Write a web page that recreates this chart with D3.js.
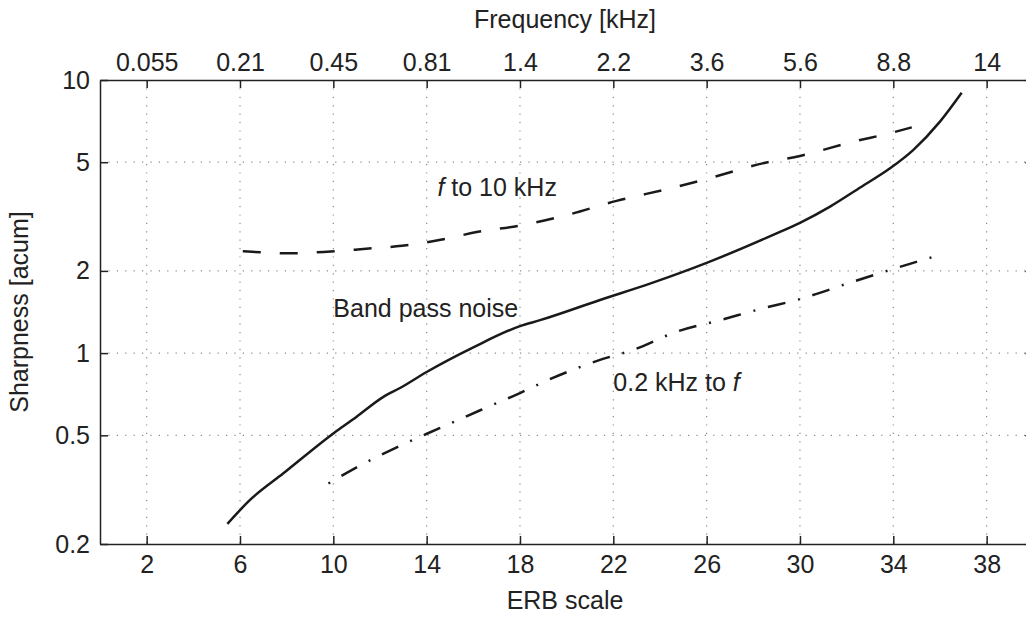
<!DOCTYPE html>
<html>
<head>
<meta charset="utf-8">
<script src="https://cdn.jsdelivr.net/npm/d3@7"></script>
<style>
  html, body { margin: 0; padding: 0; background: #fff; }
  svg { display: block; }
  text { font-family: "Liberation Sans", Arial, Helvetica, sans-serif; fill: #222; }
</style>
</head>
<body>
<svg id="chart"></svg>
<script>
// ERB ticks (bottom) and the matching frequencies (top)
const erbTicks = [2, 6, 10, 14, 18, 22, 26, 30, 34, 38];
const freqLabels = ['0.055', '0.21', '0.45', '0.81', '1.4', '2.2', '3.6', '5.6', '8.8', '14'];
const sharpTicks = [0.2, 0.5, 1, 2, 5, 10];

// band pass noise (solid)
const bandErb   = [5.46, 6.43, 7.86, 10.0, 11.0, 12.13, 12.86, 14.0, 16.0, 18.0, 18.86, 21.43, 23.6, 26.0, 28.85, 30.0, 31.29, 32.6, 33.86, 34.85, 36.0, 36.93];
const bandSharp = [0.237, 0.29, 0.363, 0.508, 0.585, 0.69, 0.745, 0.853, 1.05, 1.256, 1.32, 1.565, 1.80, 2.14, 2.71, 3.00, 3.44, 4.05, 4.75, 5.54, 7.04, 8.98];

// f to 10 kHz (dashed)
const highErb   = [6.12, 8.14, 9.73, 11.4, 12.94, 14.6, 16.2, 18.0, 20.0, 22.14, 24.43, 26.0, 28.4, 30.0, 32.27, 33.93, 34.79];
const highSharp = [2.36, 2.32, 2.35, 2.41, 2.47, 2.6, 2.78, 2.93, 3.2, 3.61, 4.01, 4.34, 4.95, 5.27, 5.94, 6.41, 6.71];

// 0.2 kHz to f (dash-dot)
const lowErb   = [9.79, 10.96, 12.72, 14.53, 16.32, 18.0, 19.2, 21.43, 22.85, 24.72, 26.57, 28.42, 29.86, 32.27, 34.85, 36.0];
const lowSharp = [0.333, 0.38, 0.452, 0.530, 0.619, 0.714, 0.797, 0.944, 1.027, 1.198, 1.32, 1.459, 1.565, 1.825, 2.14, 2.29];

const W = 1026, H = 617;
const fs = 25;

const svg = d3.select('#chart').attr('width', W).attr('height', H);

const x = d3.scaleLinear().domain([0, 40]).range([100, 1033.3]);
const y = d3.scaleLog().domain([0.2, 10]).range([544, 80]);

// grid
const grid = svg.append('g')
  .attr('stroke', '#8a8a8a')
  .attr('stroke-width', 1.2)
  .attr('stroke-dasharray', '1.2,7.2');

grid.selectAll('line.gx')
  .data(erbTicks)
  .join('line')
    .attr('class', 'gx')
    .attr('x1', d => x(d)).attr('x2', d => x(d))
    .attr('y1', y(10)).attr('y2', y(0.2));

grid.selectAll('line.gy')
  .data(sharpTicks.filter(d => d > 0.2 && d < 10))
  .join('line')
    .attr('class', 'gy')
    .attr('x1', x(0)).attr('x2', x(40))
    .attr('y1', d => y(d)).attr('y2', d => y(d));

// axes
function styleAxis(g) {
  g.selectAll('path.domain').attr('stroke', '#222').attr('stroke-width', 1.5);
  g.selectAll('.tick line').attr('stroke', '#222').attr('stroke-width', 1.5);
  g.selectAll('.tick text')
    .style('font-family', '"Liberation Sans", Arial, sans-serif')
    .style('font-size', fs + 'px')
    .attr('fill', '#222');
}

svg.append('g')
  .attr('transform', `translate(0,${y(0.2)})`)
  .call(d3.axisBottom(x).tickValues(erbTicks).tickSize(-8).tickSizeOuter(0).tickPadding(11).tickFormat(d3.format('d')))
  .call(styleAxis);

svg.append('g')
  .attr('transform', `translate(0,${y(10)})`)
  .call(d3.axisTop(x).tickValues(erbTicks).tickSize(-8).tickSizeOuter(0).tickPadding(9.5)
    .tickFormat((d, i) => freqLabels[i]))
  .call(styleAxis);

svg.append('g')
  .attr('transform', `translate(${x(0)},0)`)
  .call(d3.axisLeft(y).tickValues(sharpTicks).tickSize(-8).tickSizeOuter(0).tickPadding(10).tickFormat(d3.format('~g')))
  .call(styleAxis);

svg.append('g')
  .attr('transform', `translate(${x(40)},0)`)
  .call(d3.axisRight(y).tickValues(sharpTicks).tickSize(-8).tickSizeOuter(0).tickFormat(''))
  .call(styleAxis);

// axis titles
svg.append('text')
  .attr('x', 565).attr('y', 28)
  .attr('text-anchor', 'middle')
  .style('font-size', fs + 'px')
  .text('Frequency [kHz]');

svg.append('text')
  .attr('x', 565).attr('y', 609)
  .attr('text-anchor', 'middle')
  .style('font-size', fs + 'px')
  .text('ERB scale');

svg.append('text')
  .attr('transform', 'translate(28,312) rotate(-90)')
  .attr('text-anchor', 'middle')
  .style('font-size', fs + 'px')
  .text('Sharpness [acum]');

// curves
const line = d3.line()
  .x(d => x(d[0]))
  .y(d => y(d[1]))
  .curve(d3.curveMonotoneX);

const curves = [
  { xs: bandErb, ys: bandSharp, dash: null },
  { xs: highErb, ys: highSharp, dash: '18,19' },
  { xs: lowErb,  ys: lowSharp,  dash: '2,13,18,13' }
];

svg.append('g')
  .selectAll('path')
  .data(curves)
  .join('path')
    .attr('d', c => line(c.xs.map((v, i) => [v, c.ys[i]])))
    .attr('fill', 'none')
    .attr('stroke', '#1a1a1a')
    .attr('stroke-width', 2.5)
    .attr('stroke-dasharray', c => c.dash);

// curve labels
const t1 = svg.append('text')
  .attr('x', x(14.46)).attr('y', y(3.76))
  .style('font-size', fs + 'px');
t1.append('tspan').style('font-style', 'italic').text('f');
t1.append('tspan').text(' to 10 kHz');

svg.append('text')
  .attr('x', x(10.0)).attr('y', y(1.36))
  .style('font-size', fs + 'px')
  .text('Band pass noise');

const t3 = svg.append('text')
  .attr('x', x(22.0)).attr('y', y(0.728))
  .style('font-size', fs + 'px');
t3.append('tspan').text('0.2 kHz to ');
t3.append('tspan').style('font-style', 'italic').text('f');
</script>
</body>
</html>
